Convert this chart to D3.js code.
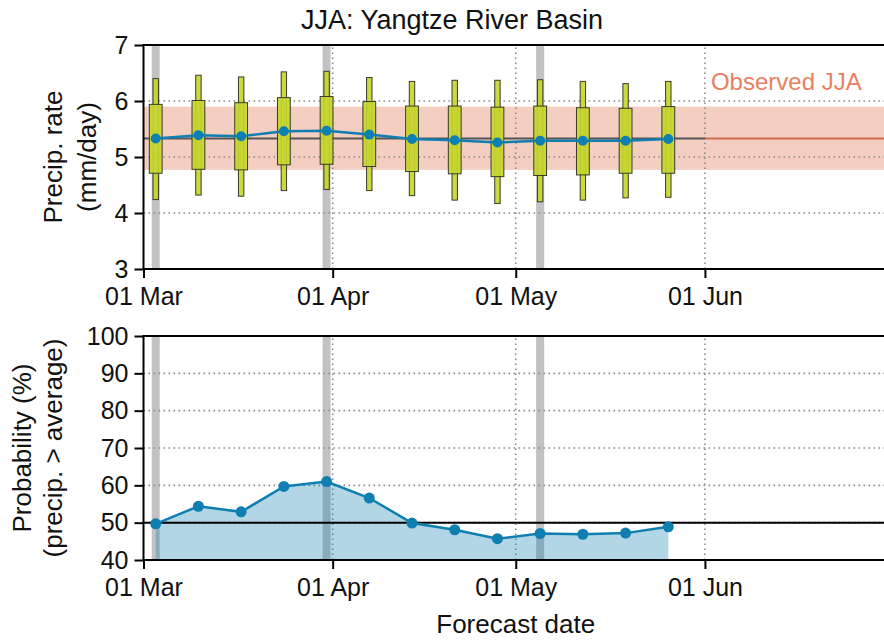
<!DOCTYPE html>
<html>
<head>
<meta charset="utf-8">
<script src="https://cdn.jsdelivr.net/npm/d3@7"></script>
<style>
  body { margin: 0; background: #fff; }
  svg text { font-family: "Liberation Sans", Arial, sans-serif; fill: #111; }
</style>
</head>
<body>
<div id="chart"></div>
<script>
// forecast start dates (weekly)
var forecastDates = ['2021-03-03','2021-03-10','2021-03-17','2021-03-24','2021-03-31','2021-04-07',
                     '2021-04-14','2021-04-21','2021-04-28','2021-05-05','2021-05-12','2021-05-19','2021-05-26'];
// model initialisation dates (grey bars)
var initDates = ['2021-03-03','2021-03-31','2021-05-05'];
var monthTicks = ['2021-03-01','2021-04-01','2021-05-01','2021-06-01'];

// ensemble precip distribution (mm/day)
var whiskerHigh = [6.40, 6.46, 6.43, 6.52, 6.53, 6.42, 6.35, 6.37, 6.37, 6.38, 6.35, 6.31, 6.35];
var boxHigh     = [5.94, 6.01, 5.97, 6.06, 6.08, 5.99, 5.91, 5.91, 5.89, 5.91, 5.88, 5.87, 5.90];
var ensMean     = [5.33, 5.39, 5.37, 5.46, 5.47, 5.40, 5.32, 5.30, 5.26, 5.29, 5.29, 5.29, 5.32];
var boxLow      = [4.71, 4.78, 4.77, 4.86, 4.87, 4.83, 4.74, 4.70, 4.65, 4.67, 4.68, 4.71, 4.71];
var whiskerLow  = [4.24, 4.32, 4.30, 4.40, 4.42, 4.40, 4.31, 4.23, 4.17, 4.20, 4.23, 4.27, 4.28];

// probability of precip above average (%)
var probAbove = [49.7, 54.4, 52.9, 59.7, 61.0, 56.6, 49.9, 48.1, 45.7, 47.1, 46.9, 47.2, 48.9];

// observed JJA
var obsMean = 5.33, obsLow = 4.77, obsHigh = 5.90;

var width = 884, height = 643;
var parse = d3.timeParse('%Y-%m-%d');
var fmt = d3.timeFormat('%d %b');

var svg = d3.select('#chart').append('svg')
    .attr('width', width)
    .attr('height', height);

var x = d3.scaleTime()
    .domain([parse('2021-03-01'), parse('2021-07-01')])
    .range([143.5, 888]);

var yTop = d3.scaleLinear().domain([3, 7]).range([269, 45]);
var yBot = d3.scaleLinear().domain([40, 100]).range([560, 336]);

var blue = '#0e7fb0';
var gridStyle = function(sel) {
    sel.attr('stroke', '#8a8a8a').attr('stroke-width', 1.6).attr('stroke-dasharray', '1.6,3.4');
};

svg.append('text')
    .attr('x', 452).attr('y', 29)
    .attr('text-anchor', 'middle')
    .style('font-size', '27px')
    .text('JJA: Yangtze River Basin');

function panel(y, yTicks) {
    var g = svg.append('g');
    var r = y.range();
    // grey init bars
    g.selectAll('.init').data(initDates).enter().append('rect')
        .attr('x', function(d) { return x(parse(d)) - 4; })
        .attr('width', 8)
        .attr('y', r[1]).attr('height', r[0] - r[1])
        .attr('fill', '#c2c2c2');
    // horizontal grid
    g.selectAll('.hgrid').data(yTicks.slice(1, -1)).enter().append('line')
        .attr('x1', x.range()[0]).attr('x2', x.range()[1])
        .attr('y1', function(d) { return y(d); }).attr('y2', function(d) { return y(d); })
        .call(gridStyle);
    // vertical grid
    g.selectAll('.vgrid').data(monthTicks.slice(1)).enter().append('line')
        .attr('x1', function(d) { return x(parse(d)); }).attr('x2', function(d) { return x(parse(d)); })
        .attr('y1', r[0]).attr('y2', r[1])
        .call(gridStyle);
    return g;
}

function axes(g, y, yTicks) {
    var r = y.range();
    var xAxis = g.append('g')
        .attr('transform', 'translate(0,' + r[0] + ')')
        .call(d3.axisBottom(x).tickValues(monthTicks.map(parse)).tickFormat(fmt).tickSize(9).tickPadding(6));
    var yAxis = g.append('g')
        .attr('transform', 'translate(' + x.range()[0] + ',0)')
        .call(d3.axisLeft(y).tickValues(yTicks).tickFormat(d3.format('d')).tickSize(9).tickPadding(6));
    [xAxis, yAxis].forEach(function(a) {
        a.select('.domain').remove();
        a.selectAll('line').attr('stroke', '#000').attr('stroke-width', 2);
        a.selectAll('text').style('font-size', '25px').attr('fill', '#111');
    });
    xAxis.selectAll('text').attr('dy', '0.85em');
    // spines
    g.append('line').attr('x1', x.range()[0]).attr('x2', x.range()[1]).attr('y1', r[1]).attr('y2', r[1])
        .attr('stroke', '#000').attr('stroke-width', 2);
    g.append('line').attr('x1', x.range()[0]).attr('x2', x.range()[1]).attr('y1', r[0]).attr('y2', r[0])
        .attr('stroke', '#000').attr('stroke-width', 2);
    g.append('line').attr('x1', x.range()[0]).attr('x2', x.range()[0]).attr('y1', r[0] + 1).attr('y2', r[1] - 1)
        .attr('stroke', '#000').attr('stroke-width', 2);
}

/* ---- top panel: precip rate ---- */
var topTicks = [3, 4, 5, 6, 7];
var gTop = panel(yTop, topTicks);

var x0 = x.range()[0];
var xJun = x(parse('2021-06-01'));
gTop.insert('rect', ':first-child')
    .attr('x', x0).attr('width', x.range()[1] - x0)
    .attr('y', yTop(obsHigh)).attr('height', yTop(obsLow) - yTop(obsHigh))
    .attr('fill', '#eca58f').attr('fill-opacity', 0.55);
gTop.append('line')
    .attr('x1', x0).attr('x2', xJun).attr('y1', yTop(obsMean)).attr('y2', yTop(obsMean))
    .attr('stroke', '#555').attr('stroke-width', 2.2);
gTop.append('line')
    .attr('x1', xJun).attr('x2', x.range()[1]).attr('y1', yTop(obsMean)).attr('y2', yTop(obsMean))
    .attr('stroke', '#cf6a50').attr('stroke-width', 2.2);
gTop.append('text')
    .attr('x', xJun + 6).attr('y', yTop(6.2))
    .style('font-size', '24px').style('fill', '#e9805f')
    .text('Observed JJA');

var boxes = gTop.selectAll('.box').data(forecastDates).enter().append('g');
boxes.append('rect')
    .attr('x', function(d) { return x(parse(d)) - 2.7; })
    .attr('width', 5.4)
    .attr('y', function(d, i) { return yTop(whiskerHigh[i]); })
    .attr('height', function(d, i) { return yTop(whiskerLow[i]) - yTop(whiskerHigh[i]); })
    .attr('fill', '#c6d62e').attr('fill-opacity', 0.92)
    .attr('stroke', '#3a3a2a').attr('stroke-width', 1);
boxes.append('rect')
    .attr('x', function(d) { return x(parse(d)) - 6.4; })
    .attr('width', 12.8)
    .attr('y', function(d, i) { return yTop(boxHigh[i]); })
    .attr('height', function(d, i) { return yTop(boxLow[i]) - yTop(boxHigh[i]); })
    .attr('fill', '#c6d62e').attr('fill-opacity', 0.92)
    .attr('stroke', '#3a3a2a').attr('stroke-width', 1);

var meanLine = d3.line()
    .x(function(d) { return x(parse(d)); })
    .y(function(d, i) { return yTop(ensMean[i]); });
gTop.append('path').datum(forecastDates)
    .attr('d', meanLine)
    .attr('fill', 'none').attr('stroke', blue).attr('stroke-width', 2.5);
gTop.selectAll('.mdot').data(forecastDates).enter().append('circle')
    .attr('cx', function(d) { return x(parse(d)); })
    .attr('cy', function(d, i) { return yTop(ensMean[i]); })
    .attr('r', 5).attr('fill', blue);

axes(gTop, yTop, topTicks);

svg.append('text')
    .attr('transform', 'translate(62,157) rotate(-90)')
    .attr('text-anchor', 'middle')
    .style('font-size', '26px')
    .text('Precip. rate');
svg.append('text')
    .attr('transform', 'translate(96,157) rotate(-90)')
    .attr('text-anchor', 'middle')
    .style('font-size', '26px')
    .text('(mm/day)');

/* ---- bottom panel: probability ---- */
var botTicks = [40, 50, 60, 70, 80, 90, 100];
var gBot = panel(yBot, botTicks);

var area = d3.area()
    .x(function(d) { return x(parse(d)); })
    .y0(yBot(40))
    .y1(function(d, i) { return yBot(probAbove[i]); });
gBot.append('path').datum(forecastDates)
    .attr('d', area)
    .attr('fill', blue).attr('fill-opacity', 0.32);
gBot.append('line')
    .attr('x1', x0).attr('x2', x.range()[1]).attr('y1', yBot(50)).attr('y2', yBot(50))
    .attr('stroke', '#000').attr('stroke-width', 2);
var probLine = d3.line()
    .x(function(d) { return x(parse(d)); })
    .y(function(d, i) { return yBot(probAbove[i]); });
gBot.append('path').datum(forecastDates)
    .attr('d', probLine)
    .attr('fill', 'none').attr('stroke', blue).attr('stroke-width', 2.5);
gBot.selectAll('.pdot').data(forecastDates).enter().append('circle')
    .attr('cx', function(d) { return x(parse(d)); })
    .attr('cy', function(d, i) { return yBot(probAbove[i]); })
    .attr('r', 5.5).attr('fill', blue);

axes(gBot, yBot, botTicks);

svg.append('text')
    .attr('transform', 'translate(31,448) rotate(-90)')
    .attr('text-anchor', 'middle')
    .style('font-size', '26px')
    .text('Probability (%)');
svg.append('text')
    .attr('transform', 'translate(62,448) rotate(-90)')
    .attr('text-anchor', 'middle')
    .style('font-size', '26px')
    .text('(precip. > average)');

svg.append('text')
    .attr('x', (x.range()[0] + x.range()[1]) / 2).attr('y', 633)
    .attr('text-anchor', 'middle')
    .style('font-size', '26px')
    .text('Forecast date');
</script>
</body>
</html>
